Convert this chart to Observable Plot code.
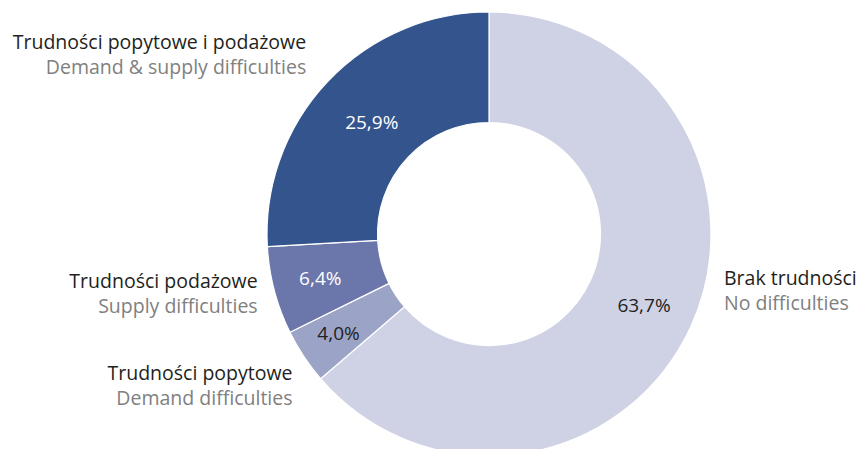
<!DOCTYPE html>
<html>
<head>
<meta charset="utf-8">
<script src="https://cdn.jsdelivr.net/npm/d3@7"></script>
<script src="https://cdn.jsdelivr.net/npm/@observablehq/plot@0.6"></script>
<style>
  html, body { margin: 0; padding: 0; background: #fff; }
  #chart svg { display: block; }
</style>
</head>
<body>
<div id="chart"></div>
<script>
// ---- data ----
const categoriesPl = ["Brak trudności", "Trudności popytowe", "Trudności podażowe", "Trudności popytowe i podażowe"];
const categoriesEn = ["No difficulties", "Demand difficulties", "Supply difficulties", "Demand & supply difficulties"];
const shares = [63.7, 4.0, 6.4, 25.9];
const valueLabels = ["63,7%", "4,0%", "6,4%", "25,9%"];
const colors = ["#cfd1e5", "#9ba3c7", "#6b77aa", "#34548e"];
const valueColors = ["#231f20", "#231f20", "#ffffff", "#ffffff"];

// ---- layout ----
const W = 859, H = 449;
const cx = 489, cy = 234;           // pixel position of donut centre
const outerR = 222, innerR = 111.5;
const valueR = [170, 181, 175, 162];        // radius of value labels
const nameR = [240, 245, 238, 261];         // radius of category label anchors
const nameDA = [-12.4, -3, 1.7, 2];         // angle nudge (deg) for category labels

const rows = categoriesPl.map((c, i) => ({
  pl: c, en: categoriesEn[i], share: shares[i], label: valueLabels[i],
  color: colors[i], vcolor: valueColors[i], i
}));
const arcs = d3.pie().sort(null).value(d => d.share)(rows);
arcs.forEach((a, i) => {
  const mid = (a.startAngle + a.endAngle) / 2;
  a.data.vx = valueR[i] * Math.sin(mid);
  a.data.vy = -valueR[i] * Math.cos(mid);
  const m2 = mid + nameDA[i] * Math.PI / 180;
  a.data.nx = nameR[i] * Math.sin(m2);
  a.data.ny = -nameR[i] * Math.cos(m2);
});
const data = arcs.map(a => a.data);
const rightSide = data.filter(d => d.nx >= 0);
const leftSide = data.filter(d => d.nx < 0);

const slices = (index, scales) => {
  const x0 = scales.x(0), y0 = scales.y(0);
  const ro = scales.x(outerR) - x0, ri = scales.x(innerR) - x0;
  const arc = d3.arc().innerRadius(ri).outerRadius(ro);
  const g = d3.create("svg:g").attr("transform", `translate(${x0},${y0})`);
  g.selectAll("path").data(arcs).join("path")
    .attr("d", arc)
    .attr("fill", d => d.data.color)
    .attr("stroke", "#ffffff")
    .attr("stroke-width", 1.2)
    .attr("stroke-linejoin", "round");
  return g.node();
};

const font = "'Open Sans', 'Noto Sans', sans-serif";
const nameSize = 19.5;
const nameMarks = (rowsSide, anchor) => [
  Plot.text(rowsSide, {
    x: "nx", y: "ny", text: "pl", fill: "#231f20",
    fontSize: nameSize, textAnchor: anchor, lineAnchor: "bottom"
  }),
  Plot.text(rowsSide, {
    x: "nx", y: "ny", text: "en", fill: "#808080", dy: 25,
    fontSize: nameSize, textAnchor: anchor, lineAnchor: "bottom"
  })
];

const chart = Plot.plot({
  width: W, height: H,
  margin: 0,
  style: { fontFamily: font, background: "#fff" },
  x: { domain: [-cx, W - cx], axis: null },
  y: { domain: [-cy, H - cy], reverse: true, axis: null },
  marks: [
    slices,
    Plot.text(data, {
      x: "vx", y: "vy", text: "label", fill: "vcolor",
      fontSize: 19, textAnchor: "middle", lineAnchor: "middle"
    }),
    ...nameMarks(leftSide, "end"),
    ...nameMarks(rightSide, "start")
  ]
});
document.getElementById("chart").appendChild(chart);
</script>
</body>
</html>
